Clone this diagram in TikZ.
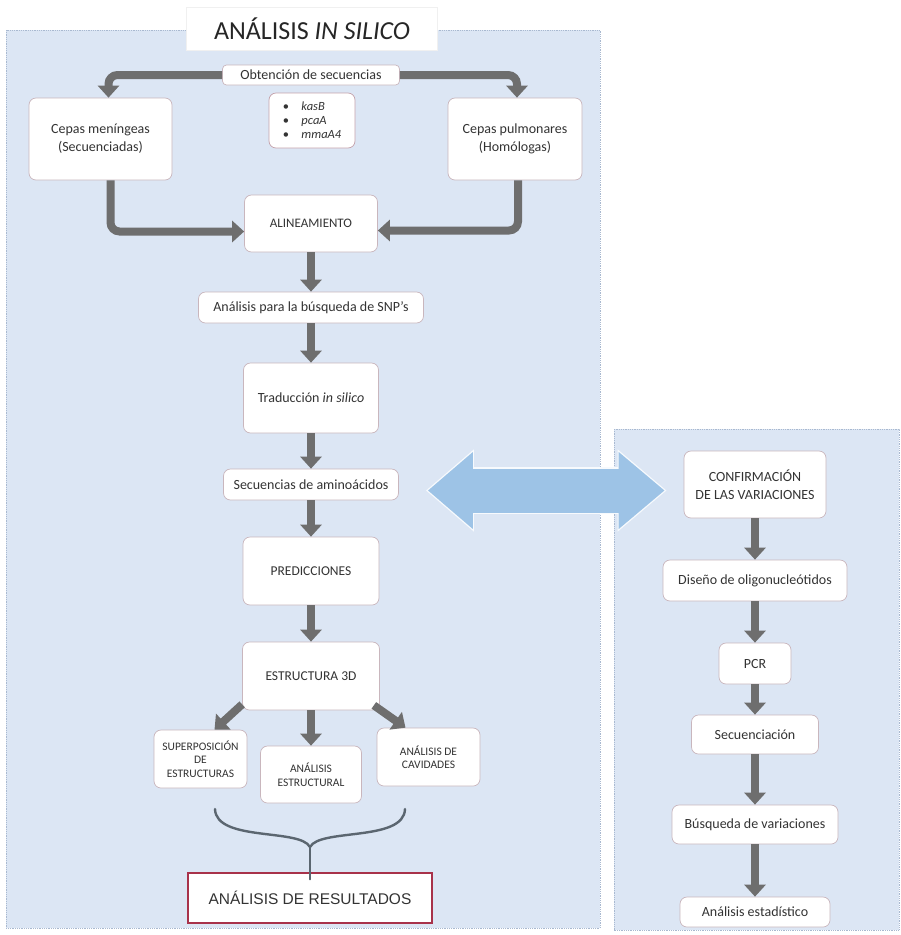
\documentclass[tikz,border=0pt]{standalone}
\usepackage{fontspec}
\setmainfont{Carlito}
\newfontfamily\arialfont{Liberation Sans}
\usetikzlibrary{arrows.meta}
\definecolor{panelfill}{HTML}{DCE6F4}
\definecolor{panelborder}{HTML}{A9B9D0}
\definecolor{boxborder}{HTML}{C9B6BD}
\definecolor{genesborder}{HTML}{C4A2AC}
\definecolor{flowgray}{HTML}{6E6E6E}
\definecolor{linkblue}{HTML}{9DC3E6}
\definecolor{resultborder}{HTML}{A8324A}
\definecolor{bracegray}{HTML}{5B6670}
\definecolor{textgray}{HTML}{333333}
\tikzset{
  stepbox/.style={rectangle, rounded corners=7pt, align=center, draw=boxborder, fill=white, line width=0.7pt, inner sep=1pt, text=textgray, font=\fontsize{14pt}{18pt}\selectfont},
  smallbox/.style={stepbox, font=\fontsize{11.5pt}{13.5pt}\selectfont},
  titlebox/.style={rectangle, fill=white, draw=black!6, text=black!85, font=\fontsize{26pt}{30pt}\selectfont},
  resultbox/.style={rectangle, fill=white, draw=resultborder, line width=1.6pt, text=textgray, font=\arialfont\fontsize{15.5pt}{18pt}\selectfont},
  panel/.style={fill=panelfill, draw=panelborder, densely dotted, line width=0.8pt},
  flow/.style={-{Triangle[length=12pt,width=21pt]}, line width=8pt, draw=flowgray},
  elbow/.style={flow, rounded corners=9pt},
  link/.style={{Triangle[length=45pt,width=74pt]}-{Triangle[length=46pt,width=74pt]}, line width=44pt, draw=linkblue},
  linkhalo/.style={{Triangle[length=48pt,width=79pt]}-{Triangle[length=49pt,width=79pt]}, line width=47pt, draw=white!92!linkblue},
  brace/.style={line width=2.4pt, draw=bracegray, line cap=round}
}

\begin{document}
\begin{tikzpicture}[x=1pt, y=-1pt]
\useasboundingbox (0,0) rectangle (901,935);

% Panels
\draw[panel] (6,30) rectangle (600,928);
\draw[panel] (614,429) rectangle (899,930);

% --- In silico column ---
\node[titlebox, minimum width=251pt, minimum height=43pt] (title) at (312,28.5) {ANÁLISIS \textit{IN SILICO}};
\node[stepbox, rounded corners=4pt, minimum width=177pt, minimum height=20pt] (obt) at (311,75) {Obtención de secuencias};
\node[stepbox, draw=genesborder, align=left, font=\fontsize{12.5pt}{14pt}\selectfont, minimum width=86pt, minimum height=55pt] (genes) at (312,120.5)
  {\textbullet\quad\textit{kasB}\\\textbullet\quad\textit{pcaA}\\\textbullet\quad\textit{mmaA4}};
\node[stepbox, minimum width=143pt, minimum height=82pt] (men) at (100.5,139) {Cepas meníngeas\\(Secuenciadas)};
\node[stepbox, minimum width=134pt, minimum height=82pt] (pul) at (515,139) {Cepas pulmonares\\(Homólogas)};
\node[stepbox, font=\fontsize{13pt}{16pt}\selectfont, minimum width=133pt, minimum height=57pt] (ali) at (311,223.5) {ALINEAMIENTO};
\node[stepbox, minimum width=225pt, minimum height=31pt] (snp) at (311,307.5) {Análisis para la búsqueda de SNP’s};
\node[stepbox, minimum width=135pt, minimum height=70pt] (trad) at (311,398) {Traducción \textit{in silico}};
\node[stepbox, minimum width=175pt, minimum height=31pt] (amino) at (311,484.5) {Secuencias de aminoácidos};
\node[stepbox, font=\fontsize{13.5pt}{16pt}\selectfont, minimum width=136pt, minimum height=68pt] (pred) at (311,571) {PREDICCIONES};
\node[stepbox, font=\fontsize{13.5pt}{16pt}\selectfont, minimum width=137pt, minimum height=68pt] (est) at (311,676) {ESTRUCTURA 3D};
\node[smallbox, minimum width=93pt, minimum height=58pt] (superp) at (200.5,759) {SUPERPOSICIÓN\\DE\\ESTRUCTURAS};
\node[smallbox, minimum width=101pt, minimum height=57pt] (anest) at (311,774.5) {ANÁLISIS\\ESTRUCTURAL};
\node[smallbox, minimum width=103pt, minimum height=58pt] (cavid) at (428.5,757) {ANÁLISIS DE\\CAVIDADES};
\node[resultbox, minimum width=244pt, minimum height=50pt] (result) at (310,898) {ANÁLISIS DE RESULTADOS};

% --- Confirmation column ---
\node[stepbox, minimum width=142pt, minimum height=67pt] (confirm) at (755,484.5) {CONFIRMACIÓN\\DE LAS VARIACIONES};
\node[stepbox, minimum width=184pt, minimum height=41pt] (diseno) at (755,580.5) {Diseño de oligonucleótidos};
\node[stepbox, minimum width=72pt, minimum height=41pt] (pcr) at (755,663.5) {PCR};
\node[stepbox, minimum width=127pt, minimum height=39pt] (secu) at (755,734.5) {Secuenciación};
\node[stepbox, minimum width=166pt, minimum height=39pt] (busq) at (755,824.5) {Búsqueda de variaciones};
\node[stepbox, minimum width=150pt, minimum height=30pt] (estad) at (755,912) {Análisis estadístico};

% --- Flow ---
% Sequences split to both strain groups, which meet again at the alignment
\draw[elbow] (obt.west) -| ([xshift=8pt]men.north);
\draw[elbow] (obt.east) -| ([xshift=2pt]pul.north);
\draw[elbow] ([xshift=10pt]men.south) |- ([yshift=-8pt]ali.west);
\draw[elbow] ([xshift=3pt]pul.south) |- ([yshift=-7pt]ali.east);
% Main chain
\draw[flow] (ali.south)   -- (snp.north);
\draw[flow] (snp.south)   -- (trad.north);
\draw[flow] (trad.south)  -- (amino.north);
\draw[flow] (amino.south) -- (pred.north);
\draw[flow] (pred.south)  -- (est.north);
% Three structural analyses
\draw[flow] ([shift={(0pt,6pt)}]est.south west) -- ([xshift=14pt]superp.north);
\draw[flow] (est.south) -- (anest.north);
\draw[flow] ([shift={(-6pt,5pt)}]est.south east) -- ([xshift=-23pt]cavid.north);
% Brace gathering the analyses into the results
\coordinate (bleft)  at (215,809);
\coordinate (bright) at (405,809);
\coordinate (cusp)   at (310,847);
\draw[brace] (bleft) .. controls (216,842) and (300,828) .. (cusp);
\draw[brace] (bright) .. controls (404,842) and (320,828) .. (cusp);
\draw[brace] (cusp) -- ([yshift=-7pt]result.north);
% Confirmation chain
\draw[flow] (confirm.south) -- (diseno.north);
\draw[flow] (diseno.south)  -- (pcr.north);
\draw[flow] (pcr.south)     -- (secu.north);
\draw[flow] (secu.south)    -- (busq.north);
\draw[flow] (busq.south)    -- (estad.north);
% Two-way link between the columns
\draw[linkhalo, shorten <=27pt, shorten >=17pt] ([yshift=-6pt]amino.east) -- ([yshift=-6pt]confirm.west);
\draw[link, shorten <=29pt, shorten >=19pt] ([yshift=-6pt]amino.east) -- ([yshift=-6pt]confirm.west);

\end{tikzpicture}
\end{document}
